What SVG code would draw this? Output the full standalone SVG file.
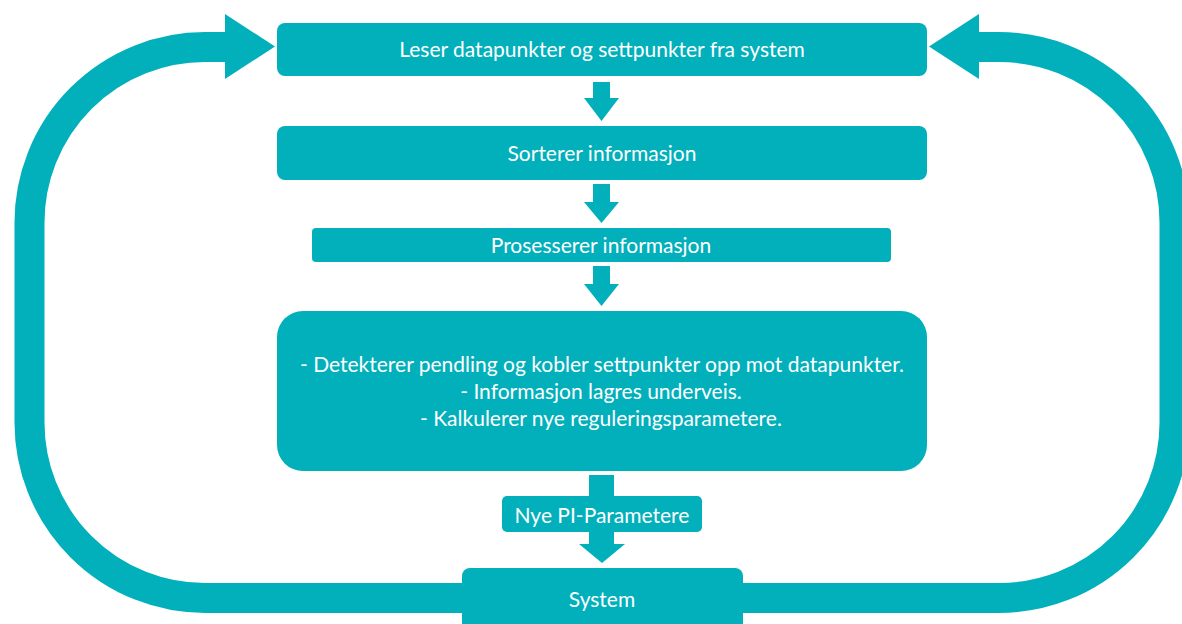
<svg xmlns="http://www.w3.org/2000/svg" width="1182" height="624" viewBox="0 0 1182 624">
<style>
.box{fill:#02B0BB}
.t{fill:#fff;font-family:Lato,"Liberation Sans",Arial,sans-serif;font-size:21px;text-anchor:middle;dominant-baseline:central}
.band{fill:none;stroke:#02B0BB;stroke-width:30}
.ah{fill:#02B0BB}
</style>
<rect width="1182" height="624" fill="#fff"/>
<g id="connectors">
<path class="band" d="M 226 47 H 205 A 175.5 175.5 0 0 0 29.5 222.5 V 422.5 A 175.5 175.5 0 0 0 205 598 H 480"/>
<polygon class="ah" points="225,14 275,46.5 225,79"/>
<path class="band" d="M 978 47 H 999 A 175.5 175.5 0 0 1 1174.5 222.5 V 422.5 A 175.5 175.5 0 0 1 999 598 H 725"/>
<polygon class="ah" points="979,14 929,46.5 979,79"/>
<polygon class="ah" points="593,82 610,82 610,98 619,98 601.5,121 584,98 593,98"/>
<polygon class="ah" points="593,184 610,184 610,202 619,202 601.5,223 584,202 593,202"/>
<polygon class="ah" points="593,266 610,266 610,284 619,284 601.5,306 584,284 593,284"/>
<polygon class="ah" points="589,475 614,475 614,544 625,544 602,563 579,544 589,544"/>
</g>
<g id="n1"><rect class="box" x="277" y="23" width="650" height="53" rx="8"/><text class="t" x="602" y="48">Leser datapunkter og settpunkter fra system</text></g>
<g id="n2"><rect class="box" x="277" y="126" width="650" height="54" rx="8"/><text class="t" x="602" y="152">Sorterer informasjon</text></g>
<g id="n3"><rect class="box" x="312" y="228" width="579" height="34" rx="4"/><text class="t" x="601" y="244">Prosesserer informasjon</text></g>
<g id="n4"><rect class="box" x="277" y="311" width="650" height="160" rx="26"/>
<text class="t" x="602" y="363">- Detekterer pendling og kobler settpunkter opp mot datapunkter.</text>
<text class="t" x="601" y="390">- Informasjon lagres underveis.</text>
<text class="t" x="601" y="417">- Kalkulerer nye reguleringsparametere.</text></g>
<g id="n5"><rect class="box" x="502" y="496" width="200" height="36" rx="5"/><text class="t" x="602" y="514">Nye PI-Parametere</text></g>
<g id="n6"><rect class="box" x="462" y="568" width="281" height="64" rx="8"/><text class="t" x="602" y="598">System</text></g>
</svg>
